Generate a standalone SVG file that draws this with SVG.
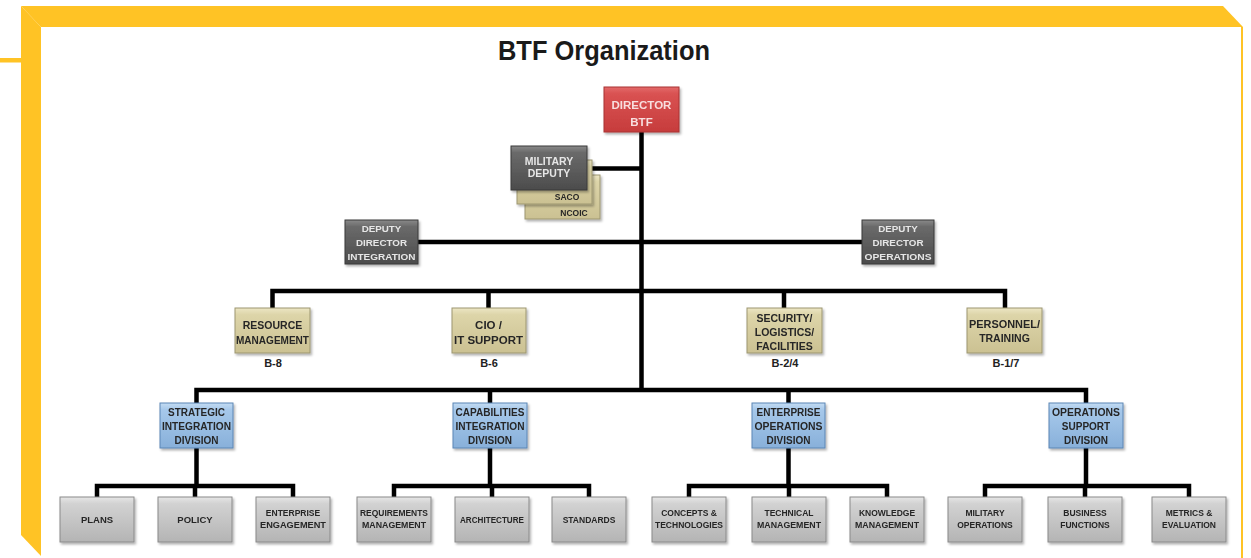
<svg xmlns="http://www.w3.org/2000/svg" width="1251" height="558" viewBox="0 0 1251 558">
<style>
text{font-family:"Liberation Sans",Arial,sans-serif;font-weight:bold;text-anchor:middle}
.t{font-size:10.5px;fill:#262626}
.tw{font-size:10.5px;fill:#e6e6e6}
.tr{font-size:11.5px;fill:#f8dede}
.ts{font-size:8.5px;fill:#262626}
.tb{font-size:9.5px;fill:#262626}
.lbl{font-size:11px;fill:#222}
.red{fill:url(#gRed);stroke:#a83232;stroke-width:1}
.dark{fill:url(#gDark);stroke:#3a3a3a;stroke-width:1}
.khaki{fill:url(#gKhaki);stroke:#9d9670;stroke-width:1}
.blue{fill:url(#gBlue);stroke:#5b86b5;stroke-width:1}
.gray{fill:url(#gGray);stroke:#8a8a8a;stroke-width:1}
.conn path{fill:none;stroke:#000;stroke-width:4.5}
.node{filter:url(#sh)}
</style>
<defs>
<linearGradient id="gRed" x1="0" y1="0" x2="0" y2="1"><stop offset="0" stop-color="#e36a6a"/><stop offset="0.15" stop-color="#d95252"/><stop offset="1" stop-color="#c63c3c"/></linearGradient>
<linearGradient id="gDark" x1="0" y1="0" x2="0" y2="1"><stop offset="0" stop-color="#8a8a8a"/><stop offset="0.15" stop-color="#6a6a6a"/><stop offset="1" stop-color="#4c4c4c"/></linearGradient>
<linearGradient id="gKhaki" x1="0" y1="0" x2="0" y2="1"><stop offset="0" stop-color="#ece6c4"/><stop offset="0.15" stop-color="#ddd5a9"/><stop offset="1" stop-color="#cbc192"/></linearGradient>
<linearGradient id="gBlue" x1="0" y1="0" x2="0" y2="1"><stop offset="0" stop-color="#c4dcf3"/><stop offset="0.15" stop-color="#a6c8ea"/><stop offset="1" stop-color="#88b0da"/></linearGradient>
<linearGradient id="gGray" x1="0" y1="0" x2="0" y2="1"><stop offset="0" stop-color="#e6e6e6"/><stop offset="0.15" stop-color="#d2d2d2"/><stop offset="1" stop-color="#b4b4b4"/></linearGradient>
<filter id="sh" x="-10%" y="-10%" width="130%" height="140%"><feDropShadow dx="1.5" dy="2" stdDeviation="1.2" flood-color="#000" flood-opacity="0.3"/></filter>
</defs>
<rect width="1251" height="558" fill="#fff"/>
<g id="frame" fill="#ffc325">
<polygon points="21,6 1223,6 1243,27 41,27"/>
<polygon points="21,6 41,27 41,556 21,535"/>
<rect x="0" y="58" width="21" height="4.5"/>
<rect x="1241" y="27" width="2" height="531"/>
</g>
<text x="604" y="60" style="font-size:27px;fill:#1a1a1a" textLength="212" lengthAdjust="spacingAndGlyphs">BTF Organization</text>
<g class="conn" id="connectors">
<path d="M641.5 132 V392"/>
<path d="M592 168.5 H641.5"/>
<path d="M418 242 H862"/>
<path d="M272.5 308 V291 H1005 V308 M488.5 291 V308 M784 291 V308"/>
<path d="M196.5 403 V390 H1086 V403 M490 390 V403 M788.5 390 V403"/>
<path d="M196.5 448 V486 M490 448 V486 M788.5 448 V486 M1086 448 V486"/>
<path d="M97 497 V486 H293 V497 M195 486 V497"/>
<path d="M394 497 V486 H589 V497 M492 486 V497"/>
<path d="M689 497 V486 H887 V497 M789 486 V497"/>
<path d="M985 497 V486 H1189 V497 M1085 486 V497"/>
</g>
<g id="n-director" class="node"><rect class="red" x="604" y="87" width="75" height="45"/><text class="tr" x="641.5" y="109">DIRECTOR</text><text class="tr" x="641.5" y="126">BTF</text></g>
<g id="n-ncoic" class="node"><rect class="khaki" x="525" y="175" width="75" height="44"/><text class="ts" x="574" y="216">NCOIC</text></g>
<g id="n-saco" class="node"><rect class="khaki" x="517" y="160" width="75" height="44"/><text class="ts" x="567" y="200">SACO</text></g>
<g id="n-military" class="node"><rect class="dark" x="511" y="146" width="76" height="44"/><text class="tw" x="549" y="164.5">MILITARY</text><text class="tw" x="549" y="176.5">DEPUTY</text></g>
<g id="n-dep-int" class="node"><rect class="dark" x="345" y="220" width="73" height="44"/><text class="tw" style="font-size:9.8px" x="381.5" y="231.5">DEPUTY</text><text class="tw" style="font-size:9.8px" x="381.5" y="245.5">DIRECTOR</text><text class="tw" style="font-size:9.8px" x="381.5" y="259.5" textLength="68" lengthAdjust="spacingAndGlyphs">INTEGRATION</text></g>
<g id="n-dep-ops" class="node"><rect class="dark" x="862" y="220" width="72" height="44"/><text class="tw" style="font-size:9.8px" x="898" y="231.5">DEPUTY</text><text class="tw" style="font-size:9.8px" x="898" y="245.5">DIRECTOR</text><text class="tw" style="font-size:9.8px" x="898" y="259.5" textLength="67" lengthAdjust="spacingAndGlyphs">OPERATIONS</text></g>
<g id="n-resource" class="node"><rect class="khaki" x="235" y="308" width="75" height="45"/><text class="t" x="272.5" y="328.5">RESOURCE</text><text class="t" x="272.5" y="343.5" textLength="73" lengthAdjust="spacingAndGlyphs">MANAGEMENT</text></g>
<text class="lbl" x="273" y="366.5">B-8</text>
<g id="n-cio" class="node"><rect class="khaki" x="452" y="308" width="74" height="45"/><text class="t" style="font-size:11.5px" x="488.5" y="329">CIO /</text><text class="t" style="font-size:11.5px" x="488.5" y="344">IT SUPPORT</text></g>
<text class="lbl" x="489" y="366.5">B-6</text>
<g id="n-security" class="node"><rect class="khaki" x="747" y="308" width="75" height="45"/><text class="t" x="784.5" y="321.5">SECURITY/</text><text class="t" x="784.5" y="335.5">LOGISTICS/</text><text class="t" x="784.5" y="349.5">FACILITIES</text></g>
<text class="lbl" x="785" y="366.5">B-2/4</text>
<g id="n-personnel" class="node"><rect class="khaki" x="967" y="308" width="75" height="45"/><text class="t" x="1004.5" y="327.5" textLength="71" lengthAdjust="spacingAndGlyphs">PERSONNEL/</text><text class="t" x="1004.5" y="341.5">TRAINING</text></g>
<text class="lbl" x="1006" y="366.5">B-1/7</text>
<g id="n-strategic" class="node"><rect class="blue" x="160" y="403" width="73" height="45"/><text class="t" style="font-size:10px" x="196.5" y="416">STRATEGIC</text><text class="t" style="font-size:10px" x="196.5" y="430" textLength="69" lengthAdjust="spacingAndGlyphs">INTEGRATION</text><text class="t" style="font-size:10px" x="196.5" y="444">DIVISION</text></g>
<g id="n-capabilities" class="node"><rect class="blue" x="453" y="403" width="74" height="45"/><text class="t" style="font-size:10px" x="490" y="416" textLength="69" lengthAdjust="spacingAndGlyphs">CAPABILITIES</text><text class="t" style="font-size:10px" x="490" y="430" textLength="69" lengthAdjust="spacingAndGlyphs">INTEGRATION</text><text class="t" style="font-size:10px" x="490" y="444">DIVISION</text></g>
<g id="n-enterprise" class="node"><rect class="blue" x="752" y="403" width="73" height="45"/><text class="t" style="font-size:10px" x="788.5" y="416">ENTERPRISE</text><text class="t" style="font-size:10px" x="788.5" y="430" textLength="68" lengthAdjust="spacingAndGlyphs">OPERATIONS</text><text class="t" style="font-size:10px" x="788.5" y="444">DIVISION</text></g>
<g id="n-opsupport" class="node"><rect class="blue" x="1049" y="403" width="74" height="45"/><text class="t" style="font-size:10px" x="1086" y="416" textLength="68" lengthAdjust="spacingAndGlyphs">OPERATIONS</text><text class="t" style="font-size:10px" x="1086" y="430">SUPPORT</text><text class="t" style="font-size:10px" x="1086" y="444">DIVISION</text></g>
<g id="n-plans" class="node"><rect class="gray" x="60" y="497" width="74" height="45"/><text class="tb" x="97" y="523">PLANS</text></g>
<g id="n-policy" class="node"><rect class="gray" x="158" y="497" width="74" height="45"/><text class="tb" x="195" y="523">POLICY</text></g>
<g id="n-engagement" class="node"><rect class="gray" x="256" y="497" width="74" height="45"/><text class="ts" x="293" y="516">ENTERPRISE</text><text class="ts" x="293" y="528" textLength="66" lengthAdjust="spacingAndGlyphs">ENGAGEMENT</text></g>
<g id="n-requirements" class="node"><rect class="gray" x="357" y="497" width="74" height="45"/><text class="ts" x="394" y="516" textLength="68" lengthAdjust="spacingAndGlyphs">REQUIREMENTS</text><text class="ts" x="394" y="528" textLength="64" lengthAdjust="spacingAndGlyphs">MANAGEMENT</text></g>
<g id="n-architecture" class="node"><rect class="gray" x="455" y="497" width="74" height="45"/><text class="ts" x="492" y="523" textLength="64" lengthAdjust="spacingAndGlyphs">ARCHITECTURE</text></g>
<g id="n-standards" class="node"><rect class="gray" x="552" y="497" width="74" height="45"/><text class="ts" x="589" y="523">STANDARDS</text></g>
<g id="n-concepts" class="node"><rect class="gray" x="652" y="497" width="74" height="45"/><text class="ts" x="689" y="516">CONCEPTS &amp;</text><text class="ts" x="689" y="528" textLength="68" lengthAdjust="spacingAndGlyphs">TECHNOLOGIES</text></g>
<g id="n-technical" class="node"><rect class="gray" x="752" y="497" width="74" height="45"/><text class="ts" x="789" y="516">TECHNICAL</text><text class="ts" x="789" y="528" textLength="64" lengthAdjust="spacingAndGlyphs">MANAGEMENT</text></g>
<g id="n-knowledge" class="node"><rect class="gray" x="850" y="497" width="74" height="45"/><text class="ts" x="887" y="516">KNOWLEDGE</text><text class="ts" x="887" y="528" textLength="64" lengthAdjust="spacingAndGlyphs">MANAGEMENT</text></g>
<g id="n-milops" class="node"><rect class="gray" x="948" y="497" width="74" height="45"/><text class="ts" x="985" y="516">MILITARY</text><text class="ts" x="985" y="528">OPERATIONS</text></g>
<g id="n-business" class="node"><rect class="gray" x="1048" y="497" width="74" height="45"/><text class="ts" x="1085" y="516">BUSINESS</text><text class="ts" x="1085" y="528">FUNCTIONS</text></g>
<g id="n-metrics" class="node"><rect class="gray" x="1152" y="497" width="74" height="45"/><text class="ts" x="1189" y="516">METRICS &amp;</text><text class="ts" x="1189" y="528">EVALUATION</text></g>
</svg>
